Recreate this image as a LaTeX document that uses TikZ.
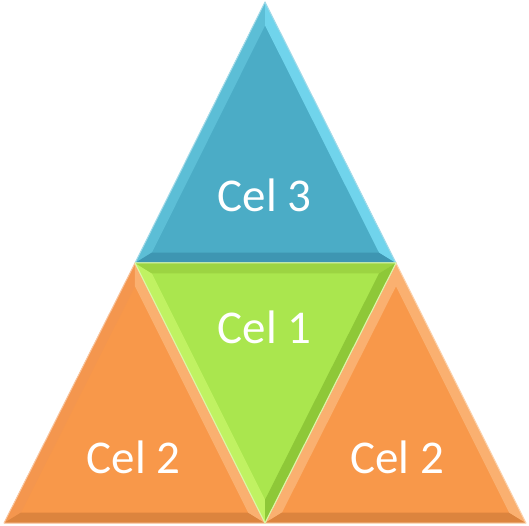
\documentclass[tikz,border=0pt]{standalone}
\usepackage{fontspec}
\setmainfont{Carlito}
\usetikzlibrary{calc}

\definecolor{blueBase}{RGB}{75,172,198}
\definecolor{blueLight}{RGB}{92,190,214}
\definecolor{blueHigh}{RGB}{112,212,236}
\definecolor{blueDark}{RGB}{62,150,178}
\definecolor{greenBase}{RGB}{170,230,78}
\definecolor{greenLight}{RGB}{192,242,98}
\definecolor{greenMid}{RGB}{156,212,66}
\definecolor{greenDark}{RGB}{142,200,56}
\definecolor{orangeBase}{RGB}{248,152,74}
\definecolor{orangeLight}{RGB}{250,176,112}
\definecolor{orangeSide}{RGB}{244,150,78}
\definecolor{orangeDark}{RGB}{220,132,62}

\tikzset{
  celtext/.style={text=white,font=\fontsize{47}{47}\selectfont,anchor=base,inner sep=0pt},
  rim/.style={line width=1pt,line join=round},
}

% #1 apex, #2 #3 base corners, #4 fill, #5 #6 #7 bevel strips, #8 name
\newcommand{\celtri}[8]{%
  \coordinate (#8-i) at ($0.3084*(#1)+0.3458*(#2)+0.3458*(#3)$);
  \coordinate (#8-a) at ($(#8-i)!0.87!(#1)$);
  \coordinate (#8-b) at ($(#8-i)!0.87!(#2)$);
  \coordinate (#8-c) at ($(#8-i)!0.87!(#3)$);
  \fill[#4] (#1) -- (#2) -- (#3) -- cycle;
  \fill[#5] (#1) -- (#2) -- (#8-b) -- (#8-a) -- cycle;
  \fill[#6] (#2) -- (#3) -- (#8-c) -- (#8-b) -- cycle;
  \fill[#7] (#3) -- (#1) -- (#8-a) -- (#8-c) -- cycle;
  \draw[rim,#5!55!white] (#1) -- (#2) -- (#3) -- cycle;
}

\begin{document}
\begin{tikzpicture}[x=1pt,y=1pt]
\useasboundingbox (0,0) rectangle (529,525);

\coordinate (top) at (265,523);
\coordinate (midL) at (135,262);
\coordinate (midR) at (396,262);
\coordinate (botL) at (4,2);
\coordinate (botM) at (265,2);
\coordinate (botR) at (526,2);

% four cells
\celtri{top}{midL}{midR}{blueBase}{blueLight}{blueDark}{blueHigh}{cel3}
\celtri{midL}{botL}{botM}{orangeBase}{orangeSide}{orangeDark}{orangeLight}{cel2l}
\celtri{midR}{botM}{botR}{orangeBase}{orangeLight}{orangeDark}{orangeLight}{cel2r}
\celtri{botM}{midL}{midR}{greenBase}{greenLight}{greenMid}{greenDark}{cel1}

\node[celtext] (lab3) at (264.5,313) {Cel 3};
\node[celtext] (lab1) at (264.5,182) {Cel 1};
\node[celtext] (lab2l) at (133.5,52) {Cel 2};
\node[celtext] (lab2r) at (397,52) {Cel 2};
\end{tikzpicture}
\end{document}
